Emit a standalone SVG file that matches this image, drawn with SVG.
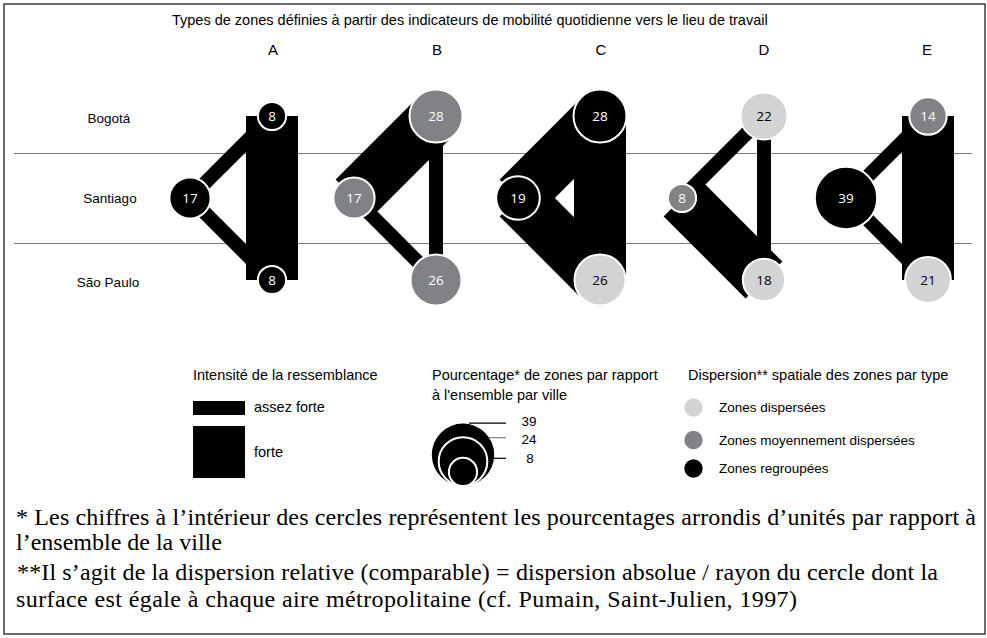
<svg xmlns="http://www.w3.org/2000/svg" width="987" height="638" viewBox="0 0 987 638">
<style>
.t{font-family:"Liberation Sans",Arial,sans-serif;fill:#000}
.ttl{font-size:14.5px}
.lt{font-size:15px;text-anchor:middle}
.row{font-size:13.5px;text-anchor:middle}
.lg{font-size:14.5px}
.lgs{font-size:13.5px}
.num{font-family:"Open Sans","Noto Sans",sans-serif;font-size:13.5px;text-anchor:middle}
.w{fill:#fff}
.k{fill:#000}
.fn{font-family:"Liberation Serif","Times New Roman",serif;font-size:24px;fill:#000}
.thin{stroke:#000;stroke-width:14;stroke-linecap:butt;fill:none}
.wide{stroke:#000;stroke-width:52;stroke-linecap:butt;fill:none}
.c{stroke:#fff;stroke-width:2}
.blk{fill:#000}
.gry{fill:#808285}
.lgt{fill:#d1d3d4}
.rule{stroke:#7a7a7a;stroke-width:1;fill:none}
</style>
<rect x="4" y="4" width="981" height="630" fill="#fff" stroke="#3c3c3c" stroke-width="1.5"/>
<text class="t ttl" x="172" y="25">Types de zones définies à partir des indicateurs de mobilité quotidienne vers le lieu de travail</text>
<g id="col-letters">
<text class="t lt" x="273" y="55">A</text>
<text class="t lt" x="437" y="55">B</text>
<text class="t lt" x="601" y="55">C</text>
<text class="t lt" x="764" y="55">D</text>
<text class="t lt" x="927" y="55">E</text>
</g>
<g id="row-labels">
<text class="t row" x="109" y="123">Bogotá</text>
<text class="t row" x="110" y="203">Santiago</text>
<text class="t row" x="108" y="287">São Paulo</text>
</g>
<g id="row-rules">
<line class="rule" x1="14" y1="153.5" x2="972" y2="153.5"/>
<line class="rule" x1="14" y1="243.5" x2="972" y2="243.5"/>
</g>
<g id="connectors">
<line class="thin" x1="190" y1="198" x2="272" y2="116"/>
<line class="thin" x1="190" y1="198" x2="272" y2="280"/>
<line class="wide" x1="272" y1="116" x2="272" y2="280"/>
<line class="wide" x1="354" y1="198" x2="436" y2="116"/>
<line class="thin" x1="354" y1="198" x2="436" y2="280"/>
<line class="thin" x1="436" y1="116" x2="436" y2="280"/>
<line class="wide" x1="518" y1="198" x2="600" y2="116"/>
<line class="wide" x1="518" y1="198" x2="600" y2="280"/>
<line class="wide" x1="600" y1="116" x2="600" y2="280"/>
<line class="thin" x1="682" y1="198" x2="764" y2="116"/>
<line class="wide" x1="682" y1="198" x2="764" y2="280"/>
<line class="thin" x1="764" y1="116" x2="764" y2="280"/>
<line class="thin" x1="846" y1="198" x2="928" y2="116"/>
<line class="thin" x1="846" y1="198" x2="928" y2="280"/>
<line class="wide" x1="928" y1="116" x2="928" y2="280"/>
</g>
<g id="A-bogota"><circle class="c blk" cx="272" cy="116" r="14.1"/><text class="num w" x="272" y="120.8">8</text></g>
<g id="A-santiago"><circle class="c blk" cx="190" cy="198" r="20.6"/><text class="num w" x="190" y="202.8">17</text></g>
<g id="A-saopaulo"><circle class="c blk" cx="272" cy="280" r="14.1"/><text class="num w" x="272" y="284.8">8</text></g>
<g id="B-bogota"><circle class="c gry" cx="436" cy="116" r="26.5"/><text class="num w" x="436" y="120.8">28</text></g>
<g id="B-santiago"><circle class="c gry" cx="354" cy="198" r="20.6"/><text class="num w" x="354" y="202.8">17</text></g>
<g id="B-saopaulo"><circle class="c gry" cx="436" cy="280" r="25.5"/><text class="num w" x="436" y="284.8">26</text></g>
<g id="C-bogota"><circle class="c blk" cx="600" cy="116" r="26.5"/><text class="num w" x="600" y="120.8">28</text></g>
<g id="C-santiago"><circle class="c blk" cx="518" cy="198" r="21.8"/><text class="num w" x="518" y="202.8">19</text></g>
<g id="C-saopaulo"><circle class="c lgt" cx="600" cy="280" r="25.5"/><text class="num k" x="600" y="284.8">26</text></g>
<g id="D-bogota"><circle class="c lgt" cx="764" cy="116" r="23.5"/><text class="num k" x="764" y="120.8">22</text></g>
<g id="D-santiago"><circle class="c gry" cx="682" cy="198" r="14.1"/><text class="num w" x="682" y="202.8">8</text></g>
<g id="D-saopaulo"><circle class="c lgt" cx="764" cy="280" r="21.2"/><text class="num k" x="764" y="284.8">18</text></g>
<g id="E-bogota"><circle class="c gry" cx="928" cy="116" r="18.7"/><text class="num w" x="928" y="120.8">14</text></g>
<g id="E-santiago"><circle class="c blk" cx="846" cy="198" r="31.2"/><text class="num w" x="846" y="202.8">39</text></g>
<g id="E-saopaulo"><circle class="c lgt" cx="928" cy="280" r="22.9"/><text class="num k" x="928" y="284.8">21</text></g>
<g id="legend-intensity">
<text class="t lg" x="193" y="380">Intensité de la ressemblance</text>
<rect x="193" y="401" width="52" height="14" fill="#000"/>
<text class="t lg" x="254" y="412">assez forte</text>
<rect x="193" y="426" width="52" height="52" fill="#000"/>
<text class="t lg" x="254" y="457">forte</text>
</g>
<g id="legend-size">
<text class="t lg" x="432" y="380">Pourcentage* de zones par rapport</text>
<text class="t lg" x="432" y="400">à l'ensemble par ville</text>
<circle cx="463" cy="454.8" r="31.2" fill="#000"/>
<circle class="c blk" cx="463" cy="461.5" r="24.3"/>
<circle class="c blk" cx="463" cy="471.9" r="14.1"/>
<line x1="469" y1="423.2" x2="506" y2="423.2" stroke="#000" stroke-width="1.2"/>
<line x1="489" y1="437.7" x2="506" y2="437.7" stroke="#808285" stroke-width="1.2"/>
<line x1="488" y1="458.3" x2="506" y2="458.3" stroke="#000" stroke-width="1.2"/>
<text class="t lgs" x="529" y="426" text-anchor="middle">39</text>
<text class="t lgs" x="529" y="444" text-anchor="middle">24</text>
<text class="t lgs" x="530" y="463" text-anchor="middle">8</text>
</g>
<g id="legend-dispersion">
<text class="t lg" x="688" y="380">Dispersion** spatiale des zones par type</text>
<circle class="lgt" cx="693.5" cy="407.5" r="9.2"/>
<text class="t lgs" x="719" y="412">Zones dispersées</text>
<circle class="gry" cx="693.5" cy="440" r="9.2"/>
<text class="t lgs" x="719" y="445">Zones moyennement dispersées</text>
<circle class="blk" cx="693.5" cy="468.5" r="9.2"/>
<text class="t lgs" x="719" y="473">Zones regroupées</text>
</g>
<g id="footnotes">
<text class="fn" x="16" y="525" textLength="960" lengthAdjust="spacing">* Les chiffres à l’intérieur des cercles représentent les pourcentages arrondis d’unités par rapport à</text>
<text class="fn" x="16" y="550">l’ensemble de la ville</text>
<text class="fn" x="17" y="580" textLength="921" lengthAdjust="spacing">**Il s’agit de la dispersion relative (comparable) = dispersion absolue / rayon du cercle dont la</text>
<text class="fn" x="16" y="606.5" textLength="781" lengthAdjust="spacing">surface est égale à chaque aire métropolitaine (cf. Pumain, Saint-Julien, 1997)</text>
</g>
</svg>
